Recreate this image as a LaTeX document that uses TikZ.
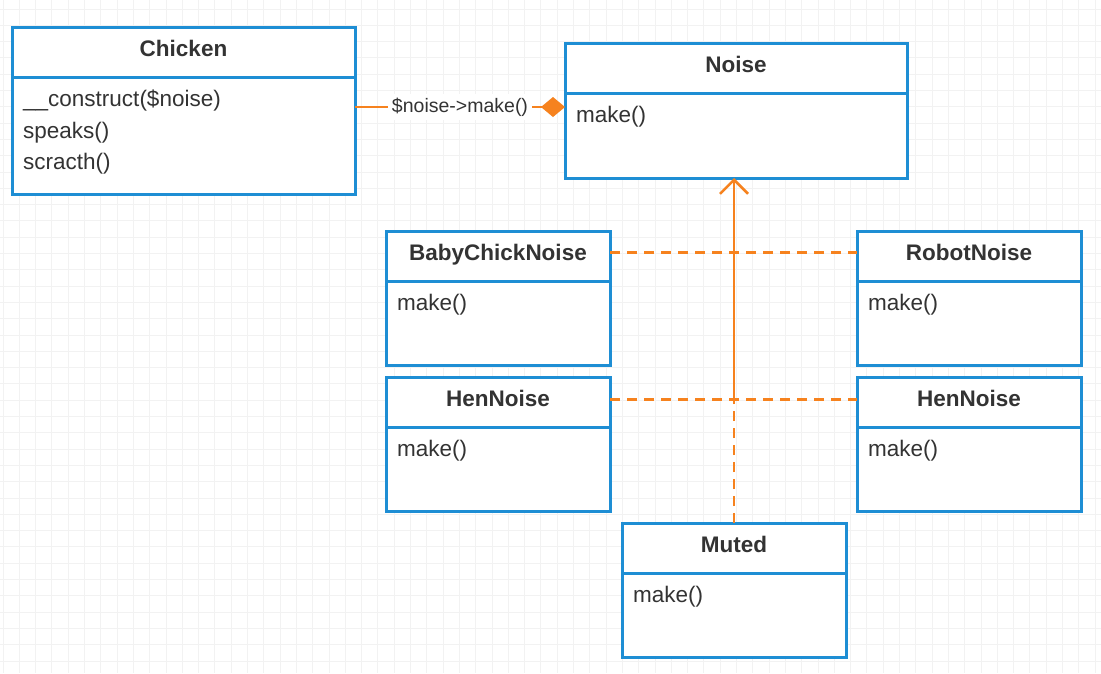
\documentclass[tikz,border=0pt]{standalone}
\usepackage{fontspec}
\setmainfont{Liberation Sans}
\usetikzlibrary{positioning,arrows.meta}
\definecolor{classblue}{RGB}{30,142,212}
\definecolor{linkorange}{RGB}{246,130,30}
\definecolor{textgray}{RGB}{51,51,51}
\tikzset{
  class head/.style={
    draw=classblue,
    line width=3pt,
    fill=white,
    text=textgray,
    font=\bfseries\fontsize{22.5}{27}\selectfont,
    text height=16pt,
    text depth=7pt,
    minimum height=50pt,
    inner sep=0pt,
    outer sep=0pt,
    anchor=north west
  },
  class body/.style={
    draw=classblue,
    line width=3pt,
    fill=white,
    inner sep=0pt,
    outer sep=0pt
  },
  members/.style={
    anchor=north west,
    xshift=11pt,
    yshift=-13pt,
    inner sep=0pt,
    align=left,
    text=textgray,
    font=\fontsize{22.5}{31.5}\selectfont
  },
  link/.style={draw=linkorange, line width=2.5pt},
  dashed link/.style={link, dash pattern=on 10pt off 7pt},
  gridline/.style={draw=black!5, line width=1pt}
}
\begin{document}
\begin{tikzpicture}[x=1pt, y=1pt]

  % Page and background grid
  \useasboundingbox (0,0) rectangle (1101,-673);
  \fill[white] (0,0) rectangle (1101,-673);
  \draw[gridline, step=16.3pt, shift={(3pt,-9pt)}] (-3,9) grid (1098,-664);

  % Classes
  \node[class head, minimum width=343pt] (chickenhead) at (12,-27) {Chicken};
  \node[class body, minimum width=343pt, minimum height=117pt, below=0pt of chickenhead,
        label={[members]north west:{\_\_construct(\$noise)\\speaks()\\scracth()}}] (chickenbody) {};

  \node[class head, minimum width=342pt] (noisehead) at (565,-43) {Noise};
  \node[class body, minimum width=342pt, minimum height=85pt, below=0pt of noisehead,
        label={[members]north west:{make()}}] (noisebody) {};

  \node[class head, minimum width=224pt] (babyhead) at (386,-231) {BabyChickNoise};
  \node[class body, minimum width=224pt, minimum height=84pt, below=0pt of babyhead,
        label={[members]north west:{make()}}] (babybody) {};

  \node[class head, minimum width=224pt] (robothead) at (857,-231) {RobotNoise};
  \node[class body, minimum width=224pt, minimum height=84pt, below=0pt of robothead,
        label={[members]north west:{make()}}] (robotbody) {};

  \node[class head, minimum width=224pt] (henlefthead) at (386,-377) {HenNoise};
  \node[class body, minimum width=224pt, minimum height=84pt, below=0pt of henlefthead,
        label={[members]north west:{make()}}] (henleftbody) {};

  \node[class head, minimum width=224pt] (henrighthead) at (857,-377) {HenNoise};
  \node[class body, minimum width=224pt, minimum height=84pt, below=0pt of henrighthead,
        label={[members]north west:{make()}}] (henrightbody) {};

  \node[class head, minimum width=224pt] (mutedhead) at (622,-523) {Muted};
  \node[class body, minimum width=224pt, minimum height=84pt, below=0pt of mutedhead,
        label={[members]north west:{make()}}] (mutedbody) {};

  % Composition
  \draw[link, -{Diamond[length=24pt,width=20pt]}] ([yshift=28.5pt]chickenbody.east) --
    node[fill=white, inner sep=4pt, text=textgray, font=\fontsize{19.5}{23}\selectfont] {\$noise->make()}
    ([yshift=28.5pt]noisebody.west);

  % Realisations
  \coordinate[yshift=2.5pt] (junction) at (mutedhead.north |- henlefthead.east);
  \draw[dashed link] ([yshift=3.5pt]babyhead.east) -- ([yshift=3.5pt]robothead.west);
  \draw[dashed link] ([yshift=2.5pt]henlefthead.east) -- ([yshift=2.5pt]henrighthead.west);
  \draw[dashed link] (mutedhead.north) -- (junction);
  \draw[link, -{Straight Barb[length=14pt,width=28pt]}] (junction) -- (mutedhead.north |- noisebody.south);

\end{tikzpicture}
\end{document}
